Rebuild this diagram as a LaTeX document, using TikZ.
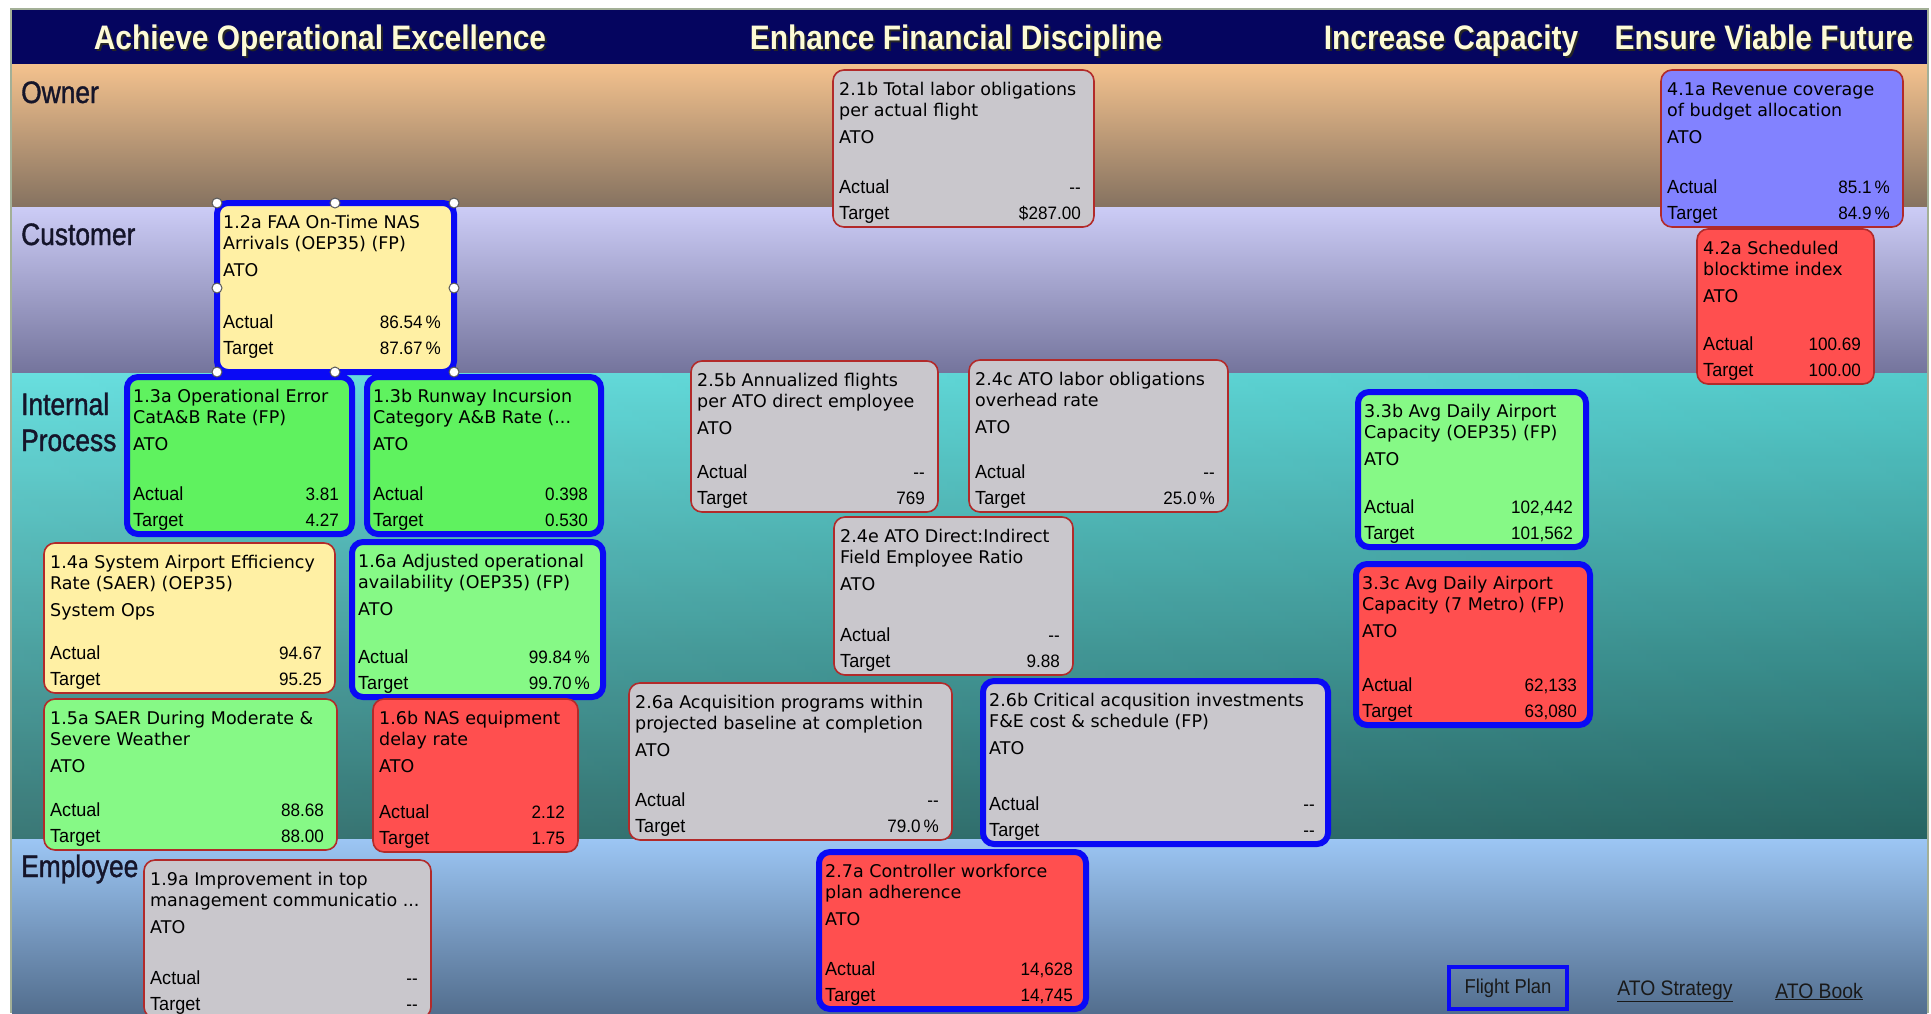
\documentclass[tikz,border=0pt]{standalone}
\usepackage{fontspec}
\setmainfont{DejaVu Sans}
\newfontfamily\titlefont{Liberation Sans}[FakeStretch=0.88]
\newfontfamily\labfont{Liberation Sans}[FakeStretch=0.85, FakeBold=1.2]
\newfontfamily\nfont{Liberation Sans}[FakeStretch=0.95]
\newfontfamily\bxfont{DejaVu Sans}
\newfontfamily\lkfont{Liberation Sans}[FakeStretch=0.92]
\definecolor{navyc}{HTML}{05055F}
\definecolor{creamc}{HTML}{FDFBD6}
\definecolor{grayf}{HTML}{C9C7CC}
\definecolor{yellowf}{HTML}{FFF0A4}
\definecolor{greenA}{HTML}{5FF25F}
\definecolor{greenB}{HTML}{86F986}
\definecolor{redf}{HTML}{FF4F4F}
\definecolor{purplef}{HTML}{8282FF}
\definecolor{redline}{HTML}{B22A2A}
\definecolor{fpblue}{HTML}{0A0AF5}
\definecolor{ownerT}{HTML}{F4C28E}
\definecolor{ownerM}{HTML}{CFA47C}
\definecolor{ownerB}{HTML}{857260}
\definecolor{custT}{HTML}{CCCCF6}
\definecolor{custM}{HTML}{A8A8D6}
\definecolor{custB}{HTML}{74749C}
\definecolor{intT}{HTML}{64F0F0}
\definecolor{intM}{HTML}{44B4B2}
\definecolor{intB}{HTML}{2E7674}
\definecolor{empT}{HTML}{9CC6F4}
\definecolor{empM}{HTML}{7A9CC6}
\definecolor{empB}{HTML}{536E8E}
\definecolor{framec}{HTML}{A3B097}
\definecolor{labc}{HTML}{15152A}

\tikzset{
  box/.style={rectangle, rounded corners=11pt, inner sep=0pt, outer sep=0pt, anchor=north west},
  thinbox/.style={box, draw=redline, line width=1.6pt},
  fpbox/.style={box, draw=fpblue, line width=6pt},
  txt/.style={anchor=base west, inner sep=0pt, font=\bxfont\fontsize{17.5}{21}\selectfont, text=black},
  lab/.style={anchor=base west, inner sep=0pt, font=\nfont\fontsize{19}{19}\selectfont, text=black},
  val/.style={anchor=base east, inner sep=0pt, font=\nfont\fontsize{18}{18}\selectfont, text=black},
  ttl/.style={anchor=base, inner sep=0pt, font=\titlefont\bfseries\fontsize{34}{34}\selectfont, text=creamc},
  ttlshadow/.style={ttl, text=black!85},
  rowlab/.style={anchor=base west, inner sep=0pt, font=\labfont\fontsize{31}{31}\selectfont, text=labc},
  handle/.style={fill=white, draw=gray!70!black, line width=1pt},
  link/.style={anchor=base, inner sep=0pt, font=\lkfont\fontsize{21}{21}\selectfont, text=black!90}
}

% #1 name, #2 x1, #3 y1, #4 x2, #5 y2, #6 options
\newcommand\kpi[6]{%
  \node[#6, minimum width={((#4)-(#2))*1pt}, minimum height={((#5)-(#3))*1pt}] (#1) at (#2,#3) {};}
% [#1 extra offset], #2 name, #3 line1, #4 line2, #5 org, #6 actual, #7 target
\newcommand\ktxt[7][0]{%
  \node[txt] (#2-l1) at ([shift={(6,25)}]#2.north west) {#3};
  \node[txt] (#2-l2) at ([shift={(6,46)}]#2.north west) {#4};
  \node[txt] (#2-org) at ([shift={(6,73)}]#2.north west) {#5};
  \node[lab] (#2-al) at ([shift={(6,-34-#1)}]#2.south west) {Actual};
  \node[lab] (#2-tl) at ([shift={(6,-8-#1)}]#2.south west) {Target};
  \node[val] (#2-av) at ([shift={(-13,-34-#1)}]#2.south east) {#6};
  \node[val] (#2-tv) at ([shift={(-13,-8-#1)}]#2.south east) {#7};}

\begin{document}
\begin{tikzpicture}[x=1pt, y=-1pt]
\clip (0,0) rectangle (1931,1013);
\fill[white] (0,0) rectangle (1931,1013);

% bands
\fill[top color=ownerT, middle color=ownerM, bottom color=ownerB] (12,64) rectangle (1927,207);
\fill[top color=custT, middle color=custM, bottom color=custB] (12,207) rectangle (1927,373);
\fill[top color=intT, middle color=intM, bottom color=intB] (12,373) rectangle (1927,839);
\fill[left color=white, right color=black, opacity=0.08] (12,373) rectangle (1927,839);
\fill[top color=empT, middle color=empM, bottom color=empB] (12,839) rectangle (1927,1013);
\fill[navyc] (12,10) rectangle (1927,64);
\draw[framec, line width=2pt] (11,1013) -- (11,9) -- (1928,9) -- (1928,1013);

% titles
\node[ttlshadow] (t1s) at (322,51) {Achieve Operational Excellence};
\node[ttl] (t1) at (320,49) {Achieve Operational Excellence};
\node[ttlshadow] (t2s) at (958,51) {Enhance Financial Discipline};
\node[ttl] (t2) at (956,49) {Enhance Financial Discipline};
\node[ttlshadow] (t3s) at (1453,51) {Increase Capacity};
\node[ttl] (t3) at (1451,49) {Increase Capacity};
\node[ttlshadow] (t4s) at (1766,51) {Ensure Viable Future};
\node[ttl] (t4) at (1764,49) {Ensure Viable Future};

% row labels
\node[rowlab] (rOwner) at (21,103) {Owner};
\node[rowlab] (rCust) at (21,245) {Customer};
\node[rowlab] (rInt1) at (21,415) {Internal};
\node[rowlab] (rInt2) at (21,451) {Process};
\node[rowlab] (rEmp) at (21,877) {Employee};

% boxes
\kpi{b21b}{833}{70}{1094}{227}{thinbox, fill=grayf}
\ktxt{b21b}{2.1b Total labor obligations}{per actual flight}{ATO}{-{}-}{\$287.00}

\kpi{b41a}{1661}{70}{1903}{227}{thinbox, fill=purplef}
\ktxt{b41a}{4.1a Revenue coverage}{of budget allocation}{ATO}{85.1\,\%}{84.9\,\%}

\kpi{b42a}{1697}{229}{1874}{384}{thinbox, fill=redf}
\ktxt{b42a}{4.2a Scheduled}{blocktime index}{ATO}{100.69}{100.00}

\kpi{b13a}{127}{377}{352}{534}{fpbox, fill=greenA}
\ktxt{b13a}{1.3a Operational Error}{CatA\&B Rate (FP)}{ATO}{3.81}{4.27}

\kpi{b13b}{367}{377}{601}{534}{fpbox, fill=greenA}
\ktxt{b13b}{1.3b Runway Incursion}{Category A\&B Rate (...}{ATO}{0.398}{0.530}

\kpi{b25b}{691}{361}{938}{512}{thinbox, fill=grayf}
\ktxt{b25b}{2.5b Annualized flights}{per ATO direct employee}{ATO}{-{}-}{769}

\kpi{b24c}{969}{360}{1228}{512}{thinbox, fill=grayf}
\ktxt{b24c}{2.4c ATO labor obligations}{overhead rate}{ATO}{-{}-}{25.0\,\%}

\kpi{b33b}{1358}{392}{1586}{547}{fpbox, fill=greenB}
\ktxt{b33b}{3.3b Avg Daily Airport}{Capacity (OEP35) (FP)}{ATO}{102,442}{101,562}

\kpi{b14a}{44}{543}{335}{693}{thinbox, fill=yellowf}
\ktxt{b14a}{1.4a System Airport Efficiency}{Rate (SAER) (OEP35)}{System Ops}{94.67}{95.25}

\kpi{b16a}{352}{542}{603}{697}{fpbox, fill=greenB}
\ktxt{b16a}{1.6a Adjusted operational}{availability (OEP35) (FP)}{ATO}{99.84\,\%}{99.70\,\%}

\kpi{b24e}{834}{517}{1073}{675}{thinbox, fill=grayf}
\ktxt{b24e}{2.4e ATO Direct:Indirect}{Field Employee Ratio}{ATO}{-{}-}{9.88}

\kpi{b33c}{1356}{564}{1590}{725}{fpbox, fill=redf}
\ktxt{b33c}{3.3c Avg Daily Airport}{Capacity (7 Metro) (FP)}{ATO}{62,133}{63,080}

\kpi{b15a}{44}{699}{337}{850}{thinbox, fill=greenB}
\ktxt{b15a}{1.5a SAER During Moderate \&}{Severe Weather}{ATO}{88.68}{88.00}

\kpi{b16b}{373}{699}{578}{852}{thinbox, fill=redf}
\ktxt{b16b}{1.6b NAS equipment}{delay rate}{ATO}{2.12}{1.75}

\kpi{b26a}{629}{683}{952}{840}{thinbox, fill=grayf}
\ktxt{b26a}{2.6a Acquisition programs within}{projected baseline at completion}{ATO}{-{}-}{79.0\,\%}

\kpi{b26b}{983}{681}{1328}{844}{fpbox, fill=grayf}
\ktxt{b26b}{2.6b Critical acqusition investments}{F\&E cost \& schedule (FP)}{ATO}{-{}-}{-{}-}

\kpi{b19a}{144}{860}{431}{1018}{thinbox, fill=grayf}
\ktxt{b19a}{1.9a Improvement in top}{management communicatio ...}{ATO}{-{}-}{-{}-}

\kpi{b27a}{819}{852}{1086}{1009}{fpbox, fill=redf}
\ktxt{b27a}{2.7a Controller workforce}{plan adherence}{ATO}{14,628}{14,745}

\kpi{b12a}{217}{203}{454}{372}{fpbox, fill=yellowf}
\ktxt[10]{b12a}{1.2a FAA On-Time NAS}{Arrivals (OEP35) (FP)}{ATO}{86.54\,\%}{87.67\,\%}

% selection handles
\foreach \hx/\hy in {217/203, 335/203, 454/203, 217/288, 454/288, 217/372, 335/372, 454/372}
  \draw[handle] (\hx,\hy) circle[radius=5pt];

% legend / links
\node[draw=fpblue, line width=4pt, minimum width=118pt, minimum height=42pt, inner sep=0pt, anchor=north west, font=\lkfont\fontsize{20}{20}\selectfont, text=black!90] (fplan) at (1447,965) {Flight Plan};
\node[link] (lstrat) at (1675,995) {\underline{ATO Strategy}};
\node[link] (lbook) at (1819,998) {\underline{ATO Book}};
\end{tikzpicture}
\end{document}
